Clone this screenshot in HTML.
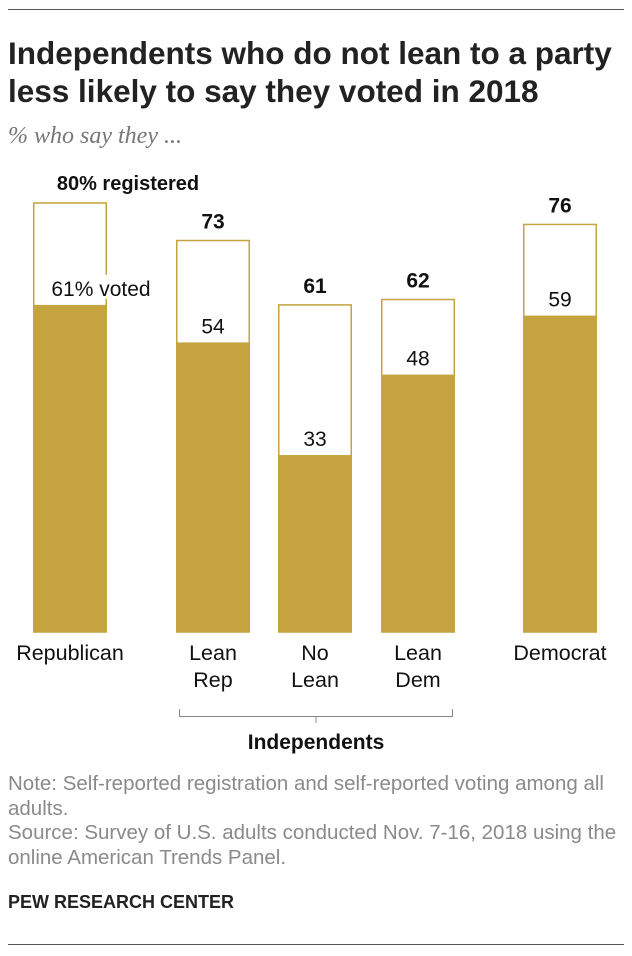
<!DOCTYPE html>
<html><head><meta charset="utf-8"><style>
body{margin:0;background:#fff;font-family:"Liberation Sans",Arial,sans-serif;}
#wrap{position:relative;width:632px;height:956px;overflow:hidden;}
.t{position:absolute;white-space:nowrap;}
</style></head><body>
<div id="wrap">
<div class="t" style="left:8px;top:9px;width:616px;height:1px;background:#555"></div>
<div class="t" style="left:8px;top:34px;font-size:31.5px;font-weight:bold;line-height:38px;color:#222">Independents who do not lean to a party<br>less likely to say they voted in 2018</div>
<div class="t" style="left:8px;top:123px;font-size:24px;font-style:italic;color:#777;font-family:'Liberation Serif',serif">% who say they ...</div>
<svg id="chart" width="632" height="760" style="position:absolute;left:0;top:0"></svg>
<div class="t" style="left:8px;top:772px;font-size:20.5px;line-height:24.5px;color:#8a8a8a">Note: Self-reported registration and self-reported voting among all<br>adults.<br>Source: Survey of U.S. adults conducted Nov. 7-16, 2018 using the<br>online American Trends Panel.</div>
<div class="t" style="left:8px;top:892px;font-size:18px;font-weight:bold;color:#222">PEW RESEARCH CENTER</div>
<div class="t" style="left:8px;top:944px;width:616px;height:1px;background:#555"></div>
</div>
<script>
const categories=["Republican","Lean\nRep","No\nLean","Lean\nDem","Democrat"];
const registered=[80,73,61,62,76];
const voted=[61,54,33,48,59];
const NS="http://www.w3.org/2000/svg";
const svg=document.getElementById('chart');
const base=632, k=5.3625;
const xs=[33,176,278,381,523], bw=74;
function y(v){return base-v*k;}
function mk(tag,attrs){const e=document.createElementNS(NS,tag);for(const a in attrs)e.setAttribute(a,attrs[a]);svg.appendChild(e);return e;}
function txt(x,yy,s,size,bold,name){const e=mk('text',{x:x,y:yy,'text-anchor':'middle','font-size':size,'font-weight':bold?'bold':'normal',fill:'#111','font-family':'Liberation Sans,Arial,sans-serif'});e.textContent=s;


return e;}
categories.forEach((c,i)=>{
 const x=xs[i], cx=x+bw/2;
 const r=mk('rect',{x:x+0.75,y:y(registered[i]),width:bw-1.5,height:base-y(registered[i]),fill:'#fff',stroke:'#c5a33f','stroke-width':1.5});
 
 
 const v=mk('rect',{x:x,y:y(voted[i]),width:bw,height:base-y(voted[i]),fill:'#c5a33f'});
 
 
 if(i===0){
  txt(cx+58,y(registered[i])-13,registered[i]+'% registered',20,true,'registered-label-'+i);
  const bg=mk('rect',{x:cx-24,y:y(voted[i])-30,width:112,height:24,fill:'#fff'});
  
  
  txt(cx+31,y(voted[i])-9,voted[i]+'% voted',21,false,'voted-label-'+i);
 }else{
  txt(cx,y(registered[i])-12,String(registered[i]),21,true,'registered-label-'+i);
  txt(cx,y(voted[i])-9,String(voted[i]),21,false,'voted-label-'+i);
 }
 c.split('\n').forEach((ln,j)=>txt(cx,660+j*27,ln,21.5,false,'category-label-'+i));
});
const br=mk('path',{d:'M179.5,709 V716.5 H452.5 V709 M316,716.5 V723',fill:'none',stroke:'#888','stroke-width':1});


txt(316,749,'Independents',21,true,'independents-label');
</script>
</body></html>
